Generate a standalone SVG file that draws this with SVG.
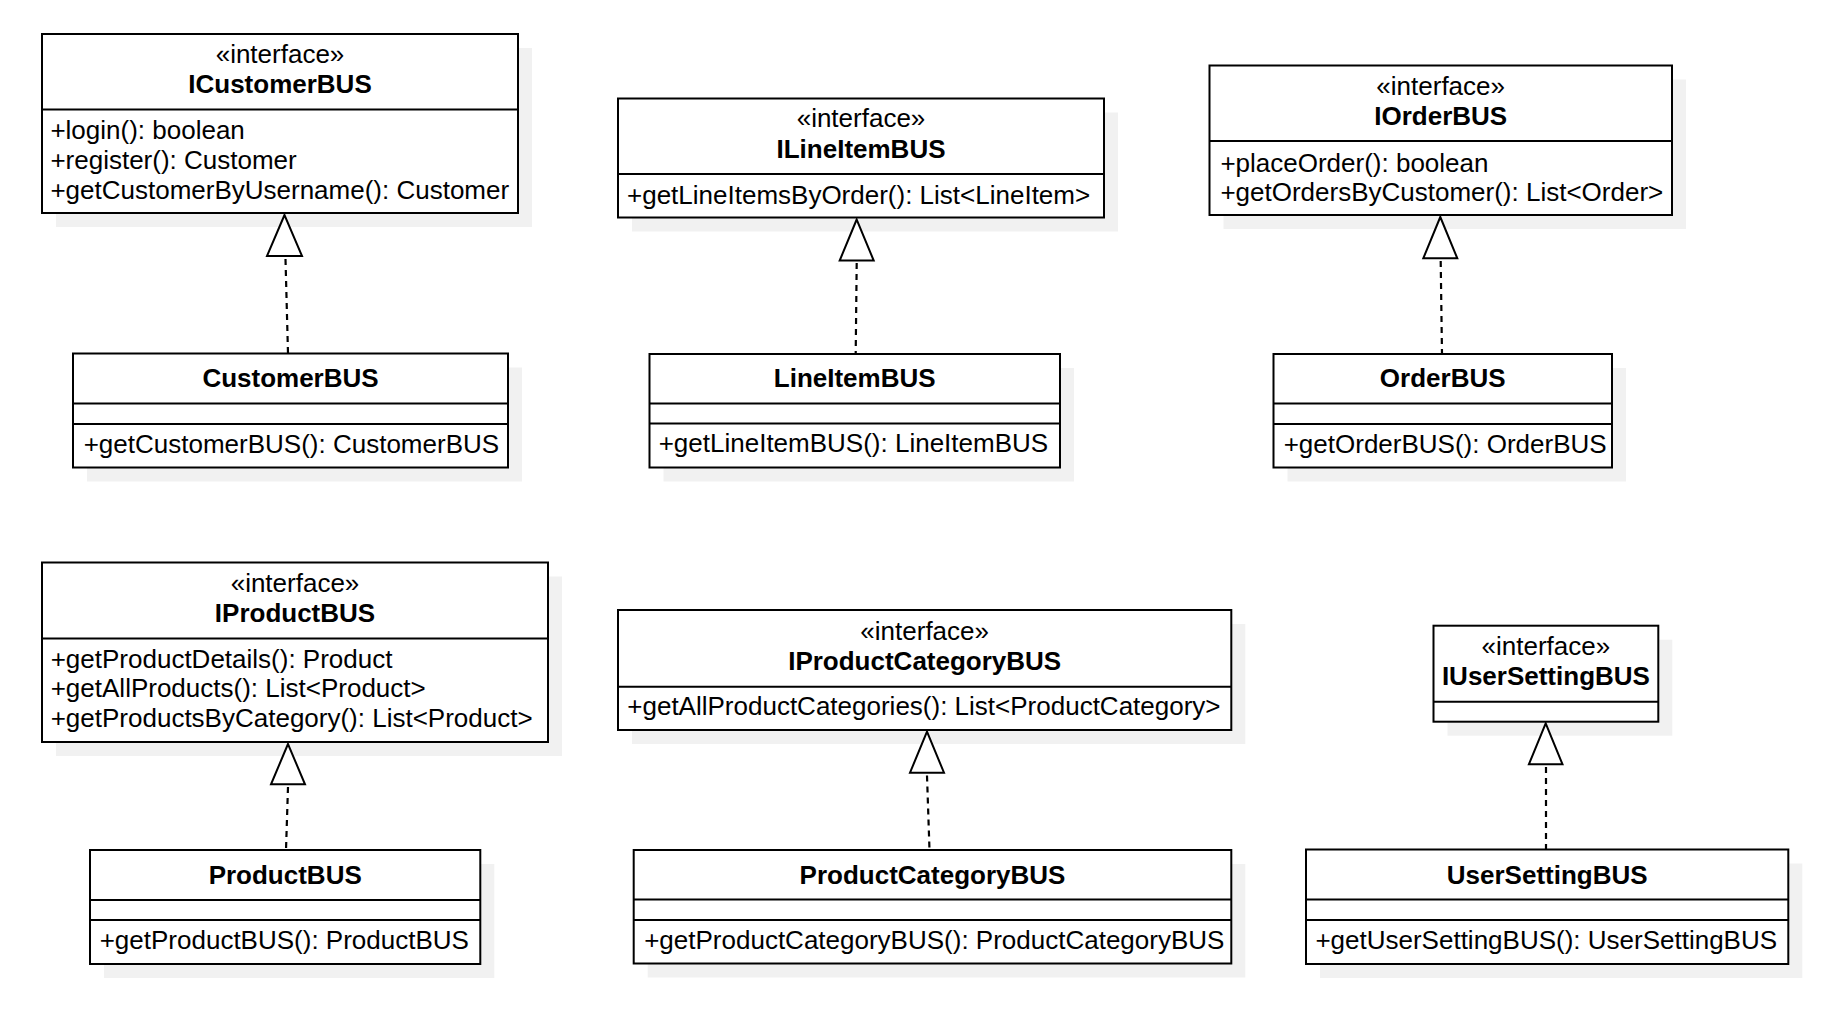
<svg xmlns="http://www.w3.org/2000/svg" width="1846" height="1030" viewBox="0 0 1846 1030">
  <style>
    .shadow { fill: #f1f1f1; stroke: none; }
    .box { fill: #ffffff; stroke: #000000; stroke-width: 2; }
    .sep { stroke: #000000; stroke-width: 2; }
    text { font-family: "Liberation Sans", Arial, Helvetica, sans-serif; font-size: 26px; fill: #000000; }
    .c { text-anchor: middle; }
    .b { font-weight: bold; }
    .dash { fill: none; stroke: #000000; stroke-width: 2.2; stroke-dasharray: 6 5; }
    .head { fill: #ffffff; stroke: #000000; stroke-width: 2; stroke-linejoin: miter; }
  </style>

  <rect width="1846" height="1030" fill="#ffffff"/>

  <!-- drop shadows -->
  <g id="shadows">
    <rect class="shadow" x="56" y="48" width="476" height="179"/>
    <rect class="shadow" x="87" y="367.5" width="435" height="114"/>
    <rect class="shadow" x="632" y="112.5" width="486" height="119"/>
    <rect class="shadow" x="663.5" y="368" width="410.5" height="113.5"/>
    <rect class="shadow" x="1223.5" y="79.5" width="462.5" height="149.5"/>
    <rect class="shadow" x="1287.5" y="368" width="338.5" height="113.5"/>
    <rect class="shadow" x="56" y="576.5" width="506" height="179.5"/>
    <rect class="shadow" x="104" y="864" width="390.3" height="114"/>
    <rect class="shadow" x="632" y="624" width="613.3" height="120"/>
    <rect class="shadow" x="647.7" y="864" width="597.6" height="113.5"/>
    <rect class="shadow" x="1447.5" y="639.7" width="224.8" height="96"/>
    <rect class="shadow" x="1320" y="863.5" width="482.3" height="114.5"/>
  </g>

  <!-- realization connectors -->
  <g id="connectors">
    <line class="dash" x1="285.5" y1="259" x2="288" y2="353.5"/>
    <polygon class="head" points="284.5,215 267,256 302,256"/>

    <line class="dash" x1="856.7" y1="263" x2="855.7" y2="354"/>
    <polygon class="head" points="856.7,219.5 839.7,260.5 873.7,260.5"/>

    <line class="dash" x1="1440.7" y1="261" x2="1442" y2="354"/>
    <polygon class="head" points="1440.3,217 1423.3,258.3 1457.3,258.3"/>

    <line class="dash" x1="288" y1="787" x2="286" y2="850"/>
    <polygon class="head" points="288,744 271,784.3 305,784.3"/>

    <line class="dash" x1="927" y1="775.5" x2="929.5" y2="850"/>
    <polygon class="head" points="927,731.7 910,772.7 944,772.7"/>

    <line class="dash" x1="1546" y1="767" x2="1546" y2="849.5"/>
    <polygon class="head" points="1545.7,723.3 1528.9,764.3 1562.5,764.3"/>
  </g>

  <!-- interfaces, top row -->
  <g id="ICustomerBUS">
    <rect class="box" x="42" y="34" width="476" height="179"/>
    <line class="sep" x1="42" y1="109.5" x2="518" y2="109.5"/>
    <text class="c" x="280" y="63">«interface»</text>
    <text class="c b" x="280" y="93">ICustomerBUS</text>
    <text x="50.4" y="139.3">+login(): boolean</text>
    <text x="50.4" y="169.3">+register(): Customer</text>
    <text x="50.4" y="199.3">+getCustomerByUsername(): Customer</text>
  </g>

  <g id="ILineItemBUS">
    <rect class="box" x="618" y="98.5" width="486" height="119"/>
    <line class="sep" x1="618" y1="174" x2="1104" y2="174"/>
    <text class="c" x="861" y="127">«interface»</text>
    <text class="c b" x="861" y="157.5">ILineItemBUS</text>
    <text x="627" y="203.5">+getLineItemsByOrder(): List&lt;LineItem&gt;</text>
  </g>

  <g id="IOrderBUS">
    <rect class="box" x="1209.5" y="65.5" width="462.5" height="149.5"/>
    <line class="sep" x1="1209.5" y1="141" x2="1672" y2="141"/>
    <text class="c" x="1440.7" y="95">«interface»</text>
    <text class="c b" x="1440.7" y="125">IOrderBUS</text>
    <text x="1220.4" y="171.5">+placeOrder(): boolean</text>
    <text x="1220.4" y="201">+getOrdersByCustomer(): List&lt;Order&gt;</text>
  </g>

  <!-- implementations, top row -->
  <g id="CustomerBUS">
    <rect class="box" x="73" y="353.5" width="435" height="114"/>
    <line class="sep" x1="73" y1="403.5" x2="508" y2="403.5"/>
    <line class="sep" x1="73" y1="424" x2="508" y2="424"/>
    <text class="c b" x="290.5" y="387">CustomerBUS</text>
    <text x="83.7" y="452.5">+getCustomerBUS(): CustomerBUS</text>
  </g>

  <g id="LineItemBUS">
    <rect class="box" x="649.5" y="354" width="410.5" height="113.5"/>
    <line class="sep" x1="649.5" y1="403.5" x2="1060" y2="403.5"/>
    <line class="sep" x1="649.5" y1="423.5" x2="1060" y2="423.5"/>
    <text class="c b" x="854.7" y="387">LineItemBUS</text>
    <text x="658.7" y="452">+getLineItemBUS(): LineItemBUS</text>
  </g>

  <g id="OrderBUS">
    <rect class="box" x="1273.5" y="354" width="338.5" height="113.5"/>
    <line class="sep" x1="1273.5" y1="403.5" x2="1612" y2="403.5"/>
    <line class="sep" x1="1273.5" y1="424" x2="1612" y2="424"/>
    <text class="c b" x="1442.7" y="387">OrderBUS</text>
    <text x="1283.7" y="452.5">+getOrderBUS(): OrderBUS</text>
  </g>

  <!-- interfaces, bottom row -->
  <g id="IProductBUS">
    <rect class="box" x="42" y="562.5" width="506" height="179.5"/>
    <line class="sep" x1="42" y1="638.5" x2="548" y2="638.5"/>
    <text class="c" x="295" y="592">«interface»</text>
    <text class="c b" x="295" y="622">IProductBUS</text>
    <text x="50.7" y="667.5">+getProductDetails(): Product</text>
    <text x="50.7" y="697">+getAllProducts(): List&lt;Product&gt;</text>
    <text x="50.7" y="726.5">+getProductsByCategory(): List&lt;Product&gt;</text>
  </g>

  <g id="IProductCategoryBUS">
    <rect class="box" x="618" y="610" width="613.3" height="120"/>
    <line class="sep" x1="618" y1="686.7" x2="1231.3" y2="686.7"/>
    <text class="c" x="924.7" y="639.5">«interface»</text>
    <text class="c b" x="924.7" y="669.5">IProductCategoryBUS</text>
    <text x="627.3" y="715">+getAllProductCategories(): List&lt;ProductCategory&gt;</text>
  </g>

  <g id="IUserSettingBUS">
    <rect class="box" x="1433.5" y="625.7" width="224.8" height="96"/>
    <line class="sep" x1="1433.5" y1="701.7" x2="1658.3" y2="701.7"/>
    <text class="c" x="1545.9" y="655">«interface»</text>
    <text class="c b" x="1545.9" y="685">IUserSettingBUS</text>
  </g>

  <!-- implementations, bottom row -->
  <g id="ProductBUS">
    <rect class="box" x="90" y="850" width="390.3" height="114"/>
    <line class="sep" x1="90" y1="900" x2="480.3" y2="900"/>
    <line class="sep" x1="90" y1="920" x2="480.3" y2="920"/>
    <text class="c b" x="285.2" y="883.5">ProductBUS</text>
    <text x="99.7" y="949">+getProductBUS(): ProductBUS</text>
  </g>

  <g id="ProductCategoryBUS">
    <rect class="box" x="633.7" y="850" width="597.6" height="113.5"/>
    <line class="sep" x1="633.7" y1="899.5" x2="1231.3" y2="899.5"/>
    <line class="sep" x1="633.7" y1="920" x2="1231.3" y2="920"/>
    <text class="c b" x="932.5" y="883.5">ProductCategoryBUS</text>
    <text x="644.2" y="948.5">+getProductCategoryBUS(): ProductCategoryBUS</text>
  </g>

  <g id="UserSettingBUS">
    <rect class="box" x="1306" y="849.5" width="482.3" height="114.5"/>
    <line class="sep" x1="1306" y1="899.5" x2="1788.3" y2="899.5"/>
    <line class="sep" x1="1306" y1="920" x2="1788.3" y2="920"/>
    <text class="c b" x="1547.2" y="883.5">UserSettingBUS</text>
    <text x="1315.4" y="948.5">+getUserSettingBUS(): UserSettingBUS</text>
  </g>
</svg>
